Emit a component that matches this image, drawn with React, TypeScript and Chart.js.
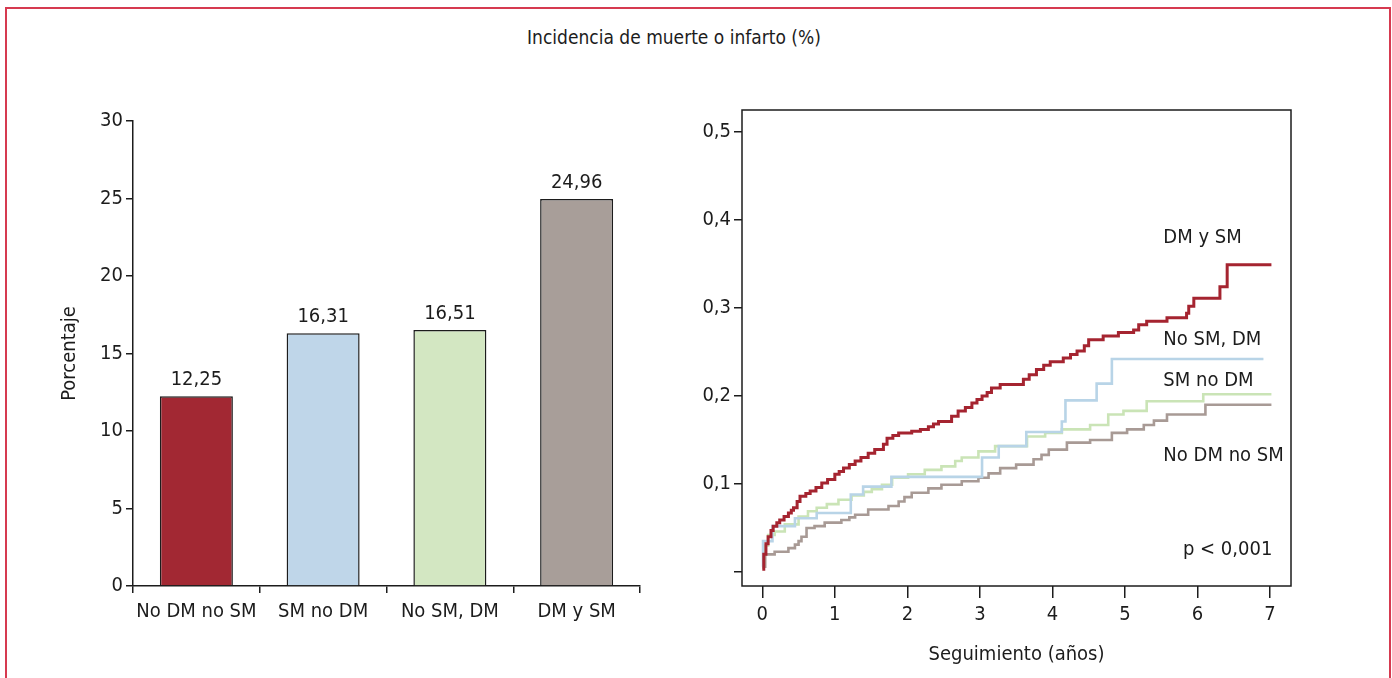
import React, { useEffect, useRef } from "react";
import { Chart, registerables } from "chart.js";

Chart.register(...registerables);

const FONT = '"Liberation Sans Narrow", "Arial Narrow", "DejaVu Sans Condensed", sans-serif';
const INK = "#1c1c1c";

// Left panel: incidence of death or infarction by group (%)
const groups = ["No DM no SM", "SM no DM", "No SM, DM", "DM y SM"];
const incidence = [12.25, 16.31, 16.51, 24.96];
const barColors = ["#a22833", "#bfd6e9", "#d3e7c2", "#a89e99"];
const percentTicks = [0, 5, 10, 15, 20, 25, 30];

// Right panel: cumulative incidence curves (Kaplan-Meier steps)
const years = [0, 1, 2, 3, 4, 5, 6, 7];
const riskTicks = [0, 0.1, 0.2, 0.3, 0.4, 0.5];

const dmSmT = [0, 0.02, 0.05, 0.08, 0.12, 0.15, 0.2, 0.24, 0.3, 0.36, 0.4, 0.43, 0.48, 0.52, 0.6, 0.66, 0.74, 0.82, 0.9, 1.0, 1.06, 1.12, 1.2, 1.28, 1.36, 1.46, 1.55, 1.67, 1.72, 1.8, 1.88, 2.06, 2.18, 2.29, 2.36, 2.43, 2.61, 2.7, 2.8, 2.89, 2.96, 3.03, 3.1, 3.16, 3.28, 3.6, 3.68, 3.78, 3.88, 3.97, 4.15, 4.25, 4.34, 4.44, 4.5, 4.7, 4.91, 5.12, 5.19, 5.3, 5.58, 5.85, 5.88, 5.95, 6.31, 6.41, 7.02];
const dmSmY = [0.003, 0.02, 0.032, 0.04, 0.047, 0.052, 0.056, 0.059, 0.063, 0.067, 0.07, 0.073, 0.08, 0.086, 0.089, 0.092, 0.096, 0.101, 0.105, 0.111, 0.114, 0.118, 0.122, 0.126, 0.13, 0.135, 0.139, 0.145, 0.152, 0.155, 0.158, 0.16, 0.162, 0.165, 0.168, 0.171, 0.177, 0.183, 0.187, 0.192, 0.196, 0.2, 0.204, 0.209, 0.213, 0.219, 0.224, 0.23, 0.235, 0.239, 0.243, 0.247, 0.251, 0.257, 0.264, 0.268, 0.272, 0.275, 0.281, 0.285, 0.289, 0.294, 0.302, 0.311, 0.324, 0.349, 0.349];

const noSmDmT = [0, 0.01, 0.14, 0.45, 0.75, 1.22, 1.39, 1.78, 3.03, 3.26, 3.64, 4.13, 4.18, 4.61, 4.82, 6.91];
const noSmDmY = [0.006, 0.035, 0.052, 0.061, 0.067, 0.088, 0.097, 0.108, 0.13, 0.143, 0.159, 0.171, 0.195, 0.214, 0.242, 0.242];

const smNoDmT = [0, 0.02, 0.08, 0.17, 0.31, 0.5, 0.63, 0.75, 0.89, 1.05, 1.23, 1.4, 1.51, 1.65, 1.79, 2.01, 2.24, 2.47, 2.66, 2.75, 2.98, 3.21, 3.65, 3.9, 4.13, 4.52, 4.77, 4.98, 5.3, 6.08, 7.02];
const smNoDmY = [0.005, 0.03, 0.042, 0.046, 0.054, 0.063, 0.069, 0.073, 0.077, 0.082, 0.087, 0.091, 0.094, 0.099, 0.107, 0.111, 0.116, 0.12, 0.126, 0.13, 0.137, 0.143, 0.154, 0.158, 0.162, 0.167, 0.179, 0.183, 0.194, 0.202, 0.202];

const noDmNoSmT = [0, 0.04, 0.17, 0.36, 0.45, 0.5, 0.54, 0.61, 0.72, 0.86, 1.09, 1.2, 1.28, 1.46, 1.74, 1.88, 1.96, 2.06, 2.29, 2.47, 2.75, 2.98, 3.12, 3.28, 3.5, 3.74, 3.85, 3.95, 4.2, 4.52, 4.82, 5.03, 5.26, 5.4, 5.58, 6.11, 7.02];
const noDmNoSmY = [0.006, 0.02, 0.023, 0.027, 0.031, 0.035, 0.04, 0.05, 0.052, 0.056, 0.059, 0.062, 0.065, 0.071, 0.075, 0.08, 0.085, 0.09, 0.095, 0.099, 0.103, 0.107, 0.112, 0.118, 0.122, 0.128, 0.133, 0.139, 0.147, 0.15, 0.158, 0.162, 0.167, 0.172, 0.179, 0.19, 0.19];

const curveNames = ["DM y SM", "No SM, DM", "SM no DM", "No DM no SM"];
const curveColors = ["#a52430", "#b8d4e7", "#cae4b6", "#a89a95"];
const pValueText = "p < 0,001";

const comma = (v: number, d: number) => v.toFixed(d).replace(".", ",");

const toPoints = (t: number[], y: number[]) => t.map((x, i) => ({ x, y: y[i] }));

export default function App() {
  const barRef = useRef<HTMLCanvasElement | null>(null);
  const kmRef = useRef<HTMLCanvasElement | null>(null);

  useEffect(() => {
    const font = { family: FONT, size: 20 };

    const barValueLabels = {
      id: "barValueLabels",
      afterDatasetsDraw(chart: any) {
        const { ctx } = chart;
        const meta = chart.getDatasetMeta(0);
        ctx.save();
        ctx.font = `20px ${FONT}`;
        ctx.fillStyle = INK;
        ctx.textAlign = "center";
        ctx.textBaseline = "middle";
        meta.data.forEach((bar: any, i: number) => {
          ctx.fillText(comma(incidence[i], 2), bar.x, bar.y - 16);
        });
        ctx.restore();
      },
    };

    const barChart = new Chart(barRef.current!, {
      type: "bar",
      data: {
        labels: groups,
        datasets: [
          {
            data: incidence,
            backgroundColor: barColors,
            borderColor: INK,
            borderWidth: 1.5,
            categoryPercentage: 1,
            barPercentage: 0.576,
          },
        ],
      },
      options: {
        responsive: false,
        animation: false,
        layout: { padding: { top: 21, right: 20, left: 0, bottom: 0 } },
        plugins: { legend: { display: false }, tooltip: { enabled: false } },
        scales: {
          x: {
            grid: { offset: true, drawOnChartArea: false, drawTicks: true, tickLength: 7, color: INK, lineWidth: 1.5 },
            border: { display: true, color: INK, width: 1.5 },
            ticks: { color: INK, font, padding: 7, maxRotation: 0, autoSkip: false },
            afterFit: (s: any) => {
              s.height = 74;
            },
          },
          y: {
            min: 0,
            max: 30,
            afterBuildTicks: (s: any) => {
              s.ticks = percentTicks.map((value) => ({ value }));
            },
            grid: { drawOnChartArea: false, drawTicks: true, tickLength: 7, color: INK, lineWidth: 1.5 },
            border: { display: true, color: INK, width: 1.5 },
            ticks: { color: INK, font, padding: 3 },
            title: { display: true, text: "Porcentaje", color: INK, font, padding: { top: 18, bottom: 0 } },
            afterFit: (s: any) => {
              s.width = 93;
            },
          },
        },
      },
      plugins: [barValueLabels],
    });

    const frameAndNotes = {
      id: "frameAndNotes",
      afterDraw(chart: any) {
        const { ctx, chartArea, scales } = chart;
        ctx.save();
        ctx.strokeStyle = INK;
        ctx.lineWidth = 1.5;
        ctx.strokeRect(chartArea.left, chartArea.top, chartArea.right - chartArea.left, chartArea.bottom - chartArea.top);
        ctx.font = `20px ${FONT}`;
        ctx.fillStyle = INK;
        ctx.textAlign = "left";
        ctx.textBaseline = "middle";
        const xs = scales.x;
        const ys = scales.y;
        const notes: [string, number, number][] = [
          [curveNames[0], 5.53, 0.38],
          [curveNames[1], 5.53, 0.264],
          [curveNames[2], 5.53, 0.217],
          [curveNames[3], 5.53, 0.132],
          [pValueText, 5.8, 0.025],
        ];
        notes.forEach(([text, x, y]) => {
          ctx.fillText(text, xs.getPixelForValue(x), ys.getPixelForValue(y));
        });
        ctx.restore();
      },
    };

    const curves = [
      toPoints(dmSmT, dmSmY),
      toPoints(noSmDmT, noSmDmY),
      toPoints(smNoDmT, smNoDmY),
      toPoints(noDmNoSmT, noDmNoSmY),
    ];

    const kmChart = new Chart(kmRef.current!, {
      type: "line",
      data: {
        datasets: curves.map((data, i) => ({
          label: curveNames[i],
          data,
          borderColor: curveColors[i],
          borderWidth: i === 0 ? 3 : 2.6,
          stepped: true,
          pointRadius: 0,
          fill: false,
        })),
      },
      options: {
        responsive: false,
        animation: false,
        layout: { padding: { top: 20, right: 29, left: 0, bottom: 0 } },
        plugins: { legend: { display: false }, tooltip: { enabled: false } },
        scales: {
          x: {
            type: "linear",
            min: -0.28,
            max: 7.29,
            afterBuildTicks: (s: any) => {
              s.ticks = years.map((value) => ({ value }));
            },
            grid: { drawOnChartArea: false, drawTicks: true, tickLength: 12, color: INK, lineWidth: 1.5 },
            border: { display: false },
            ticks: { color: INK, font, padding: 5, callback: (v: any) => String(v) },
            title: { display: true, text: "Seguimiento (años)", color: INK, font, padding: { top: 0, bottom: 8 } },
            afterFit: (s: any) => {
              s.height = 89;
            },
          },
          y: {
            min: -0.016,
            max: 0.525,
            afterBuildTicks: (s: any) => {
              s.ticks = riskTicks.map((value) => ({ value }));
            },
            grid: { drawOnChartArea: false, drawTicks: true, tickLength: 8, color: INK, lineWidth: 1.5 },
            border: { display: false },
            ticks: { color: INK, font, padding: 3, callback: (v: any) => (v === 0 ? "" : comma(Number(v), 1)) },
            afterFit: (s: any) => {
              s.width = 62;
            },
          },
        },
      },
      plugins: [frameAndNotes],
    });

    return () => {
      barChart.destroy();
      kmChart.destroy();
    };
  }, []);

  return (
    <div
      style={{
        position: "fixed",
        left: 0,
        top: 0,
        width: 1392,
        height: 678,
        overflow: "hidden",
        background: "#ffffff",
        fontFamily: FONT,
        color: INK,
      }}
    >
      <div
        style={{
          position: "absolute",
          left: 5,
          top: 7,
          width: 1382,
          height: 700,
          border: "2px solid #d63a50",
          borderBottom: "none",
        }}
      />
      <div
        style={{
          position: "absolute",
          left: 374,
          top: 26,
          width: 600,
          textAlign: "center",
          fontSize: 19,
          lineHeight: "22px",
        }}
      >
        Incidencia de muerte o infarto (%)
      </div>
      <canvas
        ref={barRef}
        width={620}
        height={560}
        style={{ position: "absolute", left: 40, top: 100, width: 620, height: 560, display: "block" }}
      />
      <canvas
        ref={kmRef}
        width={640}
        height={585}
        style={{ position: "absolute", left: 680, top: 90, width: 640, height: 585, display: "block" }}
      />
    </div>
  );
}
